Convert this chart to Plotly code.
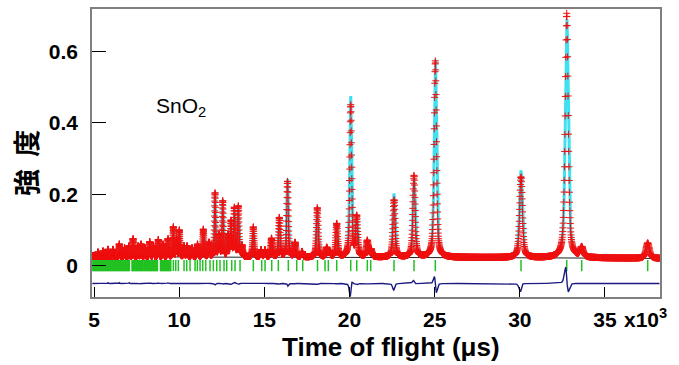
import numpy as np
import plotly.graph_objects as go

# ---- data ----
# Bragg peaks: time of flight (us), observed and calculated height above background
peak_tof = [5235, 5528, 5822, 6115, 6485, 6791, 7055, 7290, 7583, 7759, 7994, 8270, 8493, 8775,
            9051, 9345, 9656, 9844, 10008, 10284, 10460, 10754, 11076, 11417, 11752, 12104,
            12339, 12556, 12867, 13043, 13237, 13472, 13690, 14353, 14805, 15040, 15421, 15879,
            16360, 16800, 17212, 18110, 18662, 18815, 19249, 20071, 20423, 21045, 21263, 22613,
            23787, 25038, 30070, 32753, 33633, 37508]
obs_height = [0.012, 0.015, 0.020, 0.020, 0.035, 0.025, 0.030, 0.050, 0.030, 0.035, 0.025, 0.042, 0.030, 0.048,
              0.035, 0.050, 0.083, 0.050, 0.074, 0.030, 0.030, 0.025, 0.035, 0.077, 0.040, 0.178,
              0.060, 0.155, 0.060, 0.097, 0.134, 0.140, 0.030, 0.084, 0.020, 0.020, 0.052, 0.110,
              0.212, 0.040, 0.015, 0.138, 0.025, 0.015, 0.093, 0.425, 0.110, 0.045, 0.020, 0.160,
              0.228, 0.550, 0.226, 0.685, 0.027, 0.043]
calc_height = [0.011, 0.016, 0.018, 0.021, 0.033, 0.026, 0.028, 0.052, 0.029, 0.036, 0.024, 0.040, 0.031, 0.046,
               0.036, 0.048, 0.085, 0.048, 0.076, 0.029, 0.031, 0.024, 0.036, 0.079, 0.039, 0.182,
               0.058, 0.158, 0.062, 0.100, 0.131, 0.143, 0.029, 0.086, 0.021, 0.019, 0.054, 0.112,
               0.218, 0.041, 0.016, 0.141, 0.026, 0.016, 0.095, 0.450, 0.114, 0.046, 0.021, 0.178,
               0.222, 0.555, 0.245, 0.670, 0.027, 0.042]
calc_shift = [0, 0, 0, 0, 0, 0, 0, 0, 0, 0, 0, 0, 0, 0,
              0, 0, 0, 0, 0, 0, 0, 0, 0, 0, 0, 0,
              0, 0, 0, 0, 0, 0, 0, 0, 0, 0, 0, 0,
              1, 0, 0, 0, 0, 0, 0, -4, 0, 0, 0, -3,
              2, 5, -5, 8, 0, 0]

# background level
bg_tof = [4880, 7000, 10000, 15000, 20000, 25000, 30000, 35000, 38230]
bg_level = [0.026, 0.025, 0.024, 0.023, 0.023, 0.023, 0.022, 0.021, 0.020]

# Bragg reflection tick positions (us)
bragg_tof = [4930, 4975, 5020, 5070, 5115, 5160, 5210, 5255, 5300, 5350, 5395, 5440, 5490, 5535, 5580,
             5630, 5675, 5720, 5770, 5815, 5860, 5910, 5955, 6000, 6050, 6095, 6140, 6190, 6235, 6280,
             6330, 6375, 6420, 6470, 6515, 6560, 6610, 6655, 6700, 6750, 6795, 6840, 6890, 6935, 6980,
             7030, 7075, 7230, 7275, 7320, 7370, 7415, 7460, 7510, 7555, 7600, 7650, 7695, 7740, 7790,
             7835, 7880, 7930, 7975, 8020, 8070, 8115, 8160, 8210, 8255, 8300, 8350, 8395, 8440, 8490,
             8535, 8580, 8630, 8675, 8720, 8900, 8945, 8990, 9040, 9085, 9130, 9180, 9225, 9270, 9320,
             9365, 9410, 9460, 9505,
             9656, 9797, 9950, 10284, 10443, 10636, 10930, 11065, 11224, 11382, 11558, 11810, 12005,
             12205, 12397, 12632, 12790, 13084, 13278, 13572, 14353, 14846, 15040, 15433, 15820,
             16407, 16900, 17253, 18121, 18562, 18756, 19249, 20071, 20423, 21045, 21245, 22613,
             23787, 25038, 30070, 32753, 33633, 37508]

x_tickvals = [5000, 10000, 15000, 20000, 25000, 30000, 35000]
x_ticktext = ["5", "10", "15", "20", "25", "30", "35"]
y_tickvals = [0, 0.2, 0.4, 0.6]
y_ticktext = ["0", "0.2", "0.4", "0.6"]
diff_offset = -0.05

# ---- profile ----
tof = np.geomspace(4900, 38200, 5100)
bg = np.interp(tof, bg_tof, bg_level)


def pv(t, t0, h):
    fwhm = 0.0065 * t0
    x = 2.0 * (t - t0) / fwhm
    eta = 0.55
    return h * (eta / (1 + x * x) + (1 - eta) * np.exp(-np.log(2) * x * x))


obs = bg.copy()
calc = bg.copy()
for t0, ho, hc, s in zip(peak_tof, obs_height, calc_height, calc_shift):
    obs += pv(tof, t0, ho)
    calc += pv(tof, t0 + s, hc)
diff = obs - calc + diff_offset

fnt = "Liberation Sans, Arial, sans-serif"

fig = go.Figure()
fig.add_trace(go.Scatter(x=tof, y=bg, mode="lines", line=dict(color="#202020", width=1), hoverinfo="skip"))
fig.add_trace(go.Scatter(x=tof, y=calc, mode="lines", line=dict(color="#3fe0f0", width=3), hoverinfo="skip"))
fig.add_trace(go.Scatter(x=tof, y=obs, mode="markers",
                         marker=dict(symbol="cross-thin", size=5, line=dict(color="#ee1111", width=1))))
fig.add_trace(go.Scatter(x=bragg_tof, y=[0.0] * len(bragg_tof), mode="markers",
                         marker=dict(symbol="line-ns", size=8, line=dict(color="#22c022", width=1.5))))
fig.add_trace(go.Scatter(x=tof, y=diff, mode="lines", line=dict(color="#1a1a80", width=1.4), hoverinfo="skip"))

fig.update_layout(
    width=679, height=365,
    margin=dict(l=92, r=19, t=7, b=68),
    plot_bgcolor="white", paper_bgcolor="white",
    showlegend=False,
    font=dict(family=fnt, color="black"),
)
fig.update_xaxes(
    range=[4880, 38230], tickvals=x_tickvals, ticktext=x_ticktext,
    ticks="inside", ticklen=10, tickcolor="black", tickwidth=1,
    showline=True, mirror=True, linecolor="#808080", linewidth=1.5,
    showgrid=False, zeroline=False,
    tickfont=dict(size=21, family=fnt, weight=700, color="black"),
    ticklabelstandoff=3,
)
fig.update_yaxes(
    range=[-0.088, 0.719], tickvals=y_tickvals, ticktext=y_ticktext,
    ticks="inside", ticklen=14, tickcolor="black", tickwidth=1,
    showline=True, mirror=True, linecolor="#808080", linewidth=1.5,
    showgrid=False, zeroline=False,
    tickfont=dict(size=21, family=fnt, weight=700, color="black"),
    ticklabelstandoff=8,
)

fig.add_annotation(text="x10<sup>3</sup>", xref="paper", yref="paper", x=0.9326, y=-0.072,
                   xanchor="left", yanchor="middle", showarrow=False,
                   font=dict(size=21, family=fnt, weight=700, color="black"))
fig.add_annotation(text="Time of flight (μs)", xref="paper", yref="paper", x=(391 - 92) / 568,
                   y=(297 - 347) / 290, xanchor="center", yanchor="middle", showarrow=False,
                   font=dict(size=26, family=fnt, weight=700, color="black"))
fig.add_annotation(text="強  度", xref="paper", yref="paper", x=(26 - 92) / 568, y=(297 - 162) / 290,
                   xanchor="center", yanchor="middle", textangle=-90, showarrow=False,
                   font=dict(size=27, family="Noto Sans CJK JP", weight=700, color="black"))
fig.add_annotation(text="SnO<sub>2</sub>", xref="paper", yref="paper", x=(181 - 92) / 568,
                   y=(297 - 106) / 290, xanchor="center", yanchor="middle", showarrow=False,
                   font=dict(size=21, family=fnt, color="black"))

fig.write_html("out.html", config={"displayModeBar": False},
               post_script="document.body.style.margin='0';")
